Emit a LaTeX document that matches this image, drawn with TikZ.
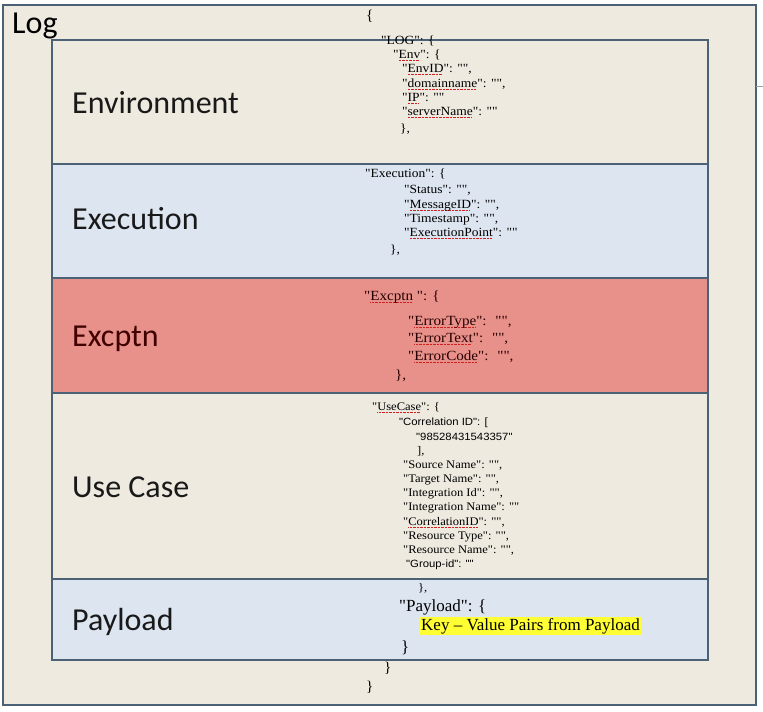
\documentclass[tikz,border=0pt]{standalone}
\usepackage{fontspec}
\newfontfamily\lab{Carlito}
\newfontfamily\js[FakeStretch=1.08]{Liberation Serif}
\newfontfamily\jsn{Liberation Serif}
\newfontfamily\jss[FakeStretch=1.08]{Liberation Sans}
\definecolor{bgbeige}{HTML}{EEEAE0}
\definecolor{bdr}{HTML}{4B6176}
\definecolor{lblue}{HTML}{DCE5F0}
\definecolor{lred}{HTML}{E8908A}
\definecolor{hl}{HTML}{FFFF33}
\definecolor{squig}{HTML}{D02020}
\newcommand\sq[1]{\setbox0\hbox{#1}\rlap{\hbox to \wd0{\color{squig}\leaders\hbox{\rule[-2.4pt]{0.7pt}{0.7pt}\hskip0.7pt}\hfill}}\box0}
\tikzset{
  boxline/.style={draw=bdr,line width=1.8pt},
  seclabel/.style={anchor=base west,inner sep=0pt,font=\lab\fontsize{32}{36}\selectfont,text=black!90},
  envtxt/.style={anchor=mid west,inner sep=0pt,font=\js\fontsize{12.5}{14}\selectfont},
  exetxt/.style={anchor=mid west,inner sep=0pt,font=\js\fontsize{12.5}{14}\selectfont},
  exctxt/.style={anchor=mid west,inner sep=0pt,font=\js\fontsize{14}{16}\selectfont,text=black!85!red},
  uctxt/.style={anchor=mid west,inner sep=0pt,font=\js\fontsize{11.6}{13}\selectfont},
  ucsans/.style={anchor=mid west,inner sep=0pt,font=\jss\fontsize{10.5}{12}\selectfont},
  paytxt/.style={anchor=mid west,inner sep=0pt,font=\jsn\fontsize{17}{19}\selectfont},
  brace/.style={anchor=mid west,inner sep=0pt,font=\jsn\fontsize{15}{17}\selectfont},
}
\begin{document}
\begin{tikzpicture}[x=1pt,y=-1pt]
\useasboundingbox (0,0) rectangle (763,712);
\fill[white] (0,0) rectangle (763,712);
% outer box
\path[boxline,fill=bgbeige] (3,5) rectangle (756,705);
\draw[bdr!60,line width=0.8pt] (756,86) -- (763,86);
% sections
\path[boxline,fill=bgbeige] (52,40) rectangle (708,164);
\path[boxline,fill=lblue] (52,164) rectangle (708,278);
\path[boxline,fill=lred] (52,278) rectangle (708,393);
\path[boxline,fill=bgbeige] (52,393) rectangle (708,579);
\path[boxline,fill=lblue] (52,579) rectangle (708,660);
% labels
\node[anchor=base west,inner sep=0pt,font=\lab\fontsize{32}{36}\selectfont] (log) at (12,33) {Log};
\node[seclabel] (lenv) at (72,113) {Environment};
\node[seclabel] (lexe) at (72,229) {Execution};
\node[seclabel,text=black!75!red] (lexc) at (72,346) {Excptn};
\node[seclabel] (luc) at (72,497) {Use Case};
\node[seclabel] (lpay) at (72,630) {Payload};
% JSON: top
\node[brace] (b0) at (366,18) {\{};
\node[envtxt] (j1) at (381,42) {"LOG": \{};
\node[envtxt] (j2) at (393,56) {"\sq{Env}": \{};
\node[envtxt] (j3) at (402,70) {"\sq{EnvID}": "",};
\node[envtxt] (j4) at (402,85) {"\sq{domainname}": "",};
\node[envtxt] (j5) at (402,99) {"\sq{IP}": ""};
\node[envtxt] (j6) at (402,113) {"\sq{serverName}": ""};
\node[envtxt] (j7) at (400,130) {\},};
% Execution
\node[exetxt] (x1) at (365,175) {"Execution": \{};
\node[exetxt] (x2) at (404,191) {"Status": "",};
\node[exetxt] (x3) at (404,206) {"\sq{MessageID}": "",};
\node[exetxt] (x4) at (404,220) {"Timestamp": "",};
\node[exetxt] (x5) at (404,234) {"\sq{ExecutionPoint}": ""};
\node[exetxt] (x6) at (390,251) {\},};
% Excptn
\node[exctxt] (e1) at (364,298) {"\sq{Excptn}\ ": \{};
\node[exctxt] (e2) at (408,323) {"\sq{ErrorType}":~ "",};
\node[exctxt] (e3) at (408,340) {"\sq{ErrorText}":~ "",};
\node[exctxt] (e4) at (408,358) {"\sq{ErrorCode}":~ "",};
\node[exctxt] (e5) at (395,377) {\},};
% Use Case
\node[uctxt] (u1) at (372,408) {"\sq{UseCase}": \{};
\node[ucsans] (u2) at (399,423) {"Correlation ID": [};
\node[ucsans] (u3) at (416,438) {"98528431543357"};
\node[uctxt] (u4) at (417,452) {],};
\node[uctxt] (u5) at (403,466) {"Source Name": "",};
\node[uctxt] (u6) at (403,480) {"Target Name": "",};
\node[uctxt] (u7) at (403,494) {"Integration Id": "",};
\node[uctxt] (u8) at (403,508) {"Integration Name": ""};
\node[uctxt] (u9) at (403,523) {"\sq{CorrelationID}": "",};
\node[uctxt] (u10) at (403,537) {"Resource Type": "",};
\node[uctxt] (u11) at (403,551) {"Resource Name": "",};
\node[ucsans] (u12) at (406,565) {"Group-id": ""};
% Payload
\node[uctxt] (p0) at (418,589) {\},};
\node[paytxt] (p1) at (399,609) {"Payload": \{};
\node[paytxt,fill=hl,inner xsep=1pt,inner ysep=1.5pt] (p2) at (420,628) {Key – Value Pairs from Payload};
\node[paytxt] (p3) at (401,650) {\}};
\node[brace] (p4) at (384,670) {\}};
\node[brace] (p5) at (366,689) {\}};
\end{tikzpicture}
\end{document}
